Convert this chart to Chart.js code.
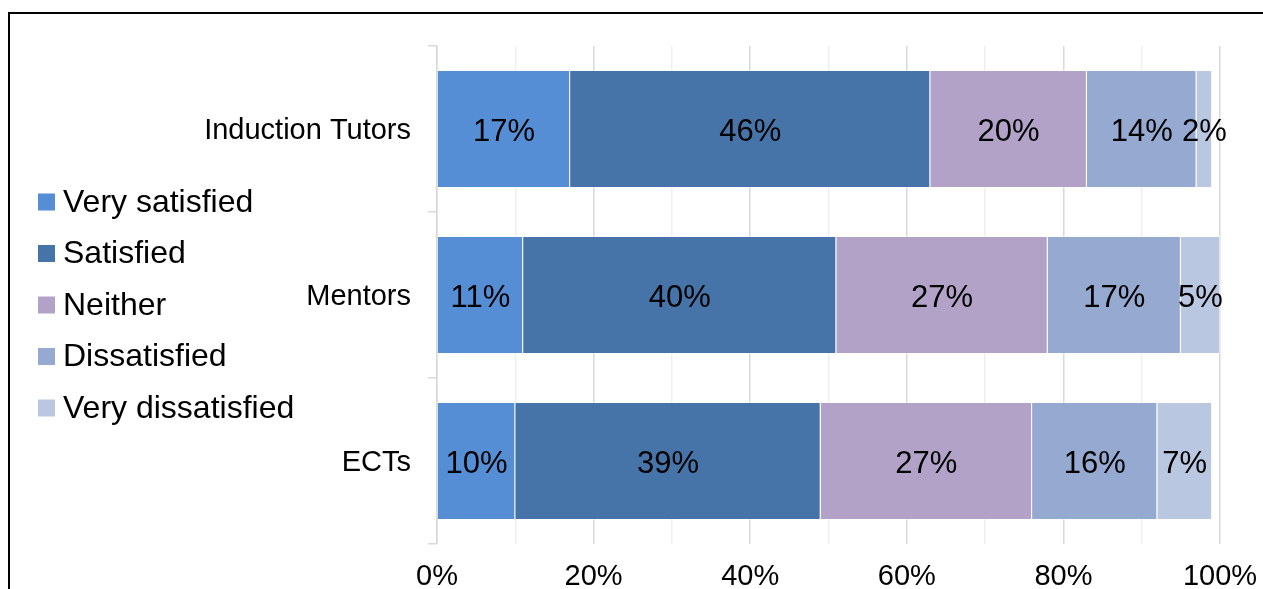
<!DOCTYPE html>
<html>
<head>
<meta charset="utf-8">
<script src="https://cdn.jsdelivr.net/npm/chart.js@4.4.1/dist/chart.umd.min.js"></script>
<style>
  html, body { margin: 0; padding: 0; background: #fff; overflow: hidden; }
  #wrap { position: relative; width: 1263px; height: 589px; }
  #frame { position: absolute; left: 8px; top: 12px; width: 1400px; height: 700px;
           border-top: 2px solid #000; border-left: 2px solid #000; pointer-events: none; }
  canvas { position: absolute; left: 0; top: 0; }
</style>
</head>
<body>
<div id="wrap">
  <canvas id="c" width="1263" height="589"></canvas>
  <div id="frame"></div>
</div>
<script>
const categories = ['Induction Tutors', 'Mentors', 'ECTs'];
const seriesNames = ['Very satisfied', 'Satisfied', 'Neither', 'Dissatisfied', 'Very dissatisfied'];
const verySatisfied = [17, 11, 10];
const satisfied = [46, 40, 39];
const neither = [20, 27, 27];
const dissatisfied = [14, 17, 16];
const veryDissatisfied = [2, 5, 7];
const xTickLabels = ['0%', '20%', '40%', '60%', '80%', '100%'];
const seriesColors = ['#558ED5', '#4674A8', '#B2A2C7', '#95A9D1', '#BAC7E1'];

const seriesValues = [verySatisfied, satisfied, neither, dissatisfied, veryDissatisfied];

Chart.defaults.font.family = '"Liberation Sans", Arial, sans-serif';
Chart.defaults.color = '#000';

const dataLabelPlugin = {
  id: 'barValueLabels',
  afterDatasetsDraw(chart) {
    const ctx = chart.ctx;
    ctx.save();
    ctx.font = '31px "Liberation Sans", Arial, sans-serif';
    ctx.fillStyle = '#000';
    ctx.textAlign = 'center';
    ctx.textBaseline = 'middle';
    chart.data.datasets.forEach((ds, di) => {
      const meta = chart.getDatasetMeta(di);
      meta.data.forEach((el, i) => {
        const v = ds.data[i];
        const cx = (el.x + el.base) / 2;
        ctx.fillText(v + '%', cx, el.y + 3);
      });
    });
    ctx.restore();
  }
};

// Legend drawn on the canvas from the chart's own datasets
const sideLegendPlugin = {
  id: 'sideLegend',
  afterDraw(chart, args, opts) {
    const ctx = chart.ctx;
    ctx.save();
    ctx.font = opts.fontSize + 'px "Liberation Sans", Arial, sans-serif';
    ctx.textAlign = 'left';
    ctx.textBaseline = 'middle';
    chart.data.datasets.forEach((ds, i) => {
      const cy = opts.top + i * opts.spacing;
      ctx.fillStyle = ds.backgroundColor;
      ctx.fillRect(opts.boxLeft, cy - opts.box / 2, opts.box, opts.box);
      ctx.fillStyle = '#000';
      ctx.fillText(ds.label, opts.textLeft, cy + 1);
    });
    ctx.restore();
  }
};

new Chart(document.getElementById('c'), {
  type: 'bar',
  data: {
    labels: categories,
    datasets: seriesNames.map((name, k) => ({
      label: name,
      data: seriesValues[k],
      backgroundColor: seriesColors[k],
      borderColor: 'rgba(255,255,255,0.35)',
      borderWidth: 1,
      categoryPercentage: 1,
      barPercentage: 0.71
    }))
  },
  options: {
    indexAxis: 'y',
    responsive: false,
    animation: false,
    layout: { padding: { left: 193.5, top: 46, right: 43, bottom: 0 } },
    plugins: {
      tooltip: { enabled: false },
      legend: { display: false },
      sideLegend: { top: 202, spacing: 51.5, boxLeft: 38, box: 17, textLeft: 63, fontSize: 32 }
    },
    scales: {
      x: {
        stacked: true,
        min: 0,
        max: 100,
        ticks: {
          stepSize: 10,
          font: { size: 29 },
          color: '#000',
          padding: 0,
          maxRotation: 0,
          autoSkip: false,
          callback: (v) => (v % 20 === 0 ? xTickLabels[v / 20] : '')
        },
        grid: {
          drawTicks: true,
          tickLength: 15.5,
          tickColor: 'rgba(0,0,0,0)',
          lineWidth: 1.5,
          color: (c) => (c.tick && c.tick.value % 20 === 0 ? '#d9d9d9' : '#efefef')
        },
        border: { display: false },
        afterFit: (s) => { s.height = 45; }
      },
      y: {
        stacked: true,
        ticks: { font: { size: 29 }, color: '#000', padding: 17, labelOffset: 2 },
        grid: { drawOnChartArea: false, drawTicks: true, tickLength: 9, color: '#d9d9d9', lineWidth: 1.5 },
        border: { display: true, color: '#d9d9d9', width: 1.5 },
        afterFit: (s) => { s.width = 243.5; }
      }
    }
  },
  plugins: [dataLabelPlugin, sideLegendPlugin]
});
</script>
</body>
</html>
